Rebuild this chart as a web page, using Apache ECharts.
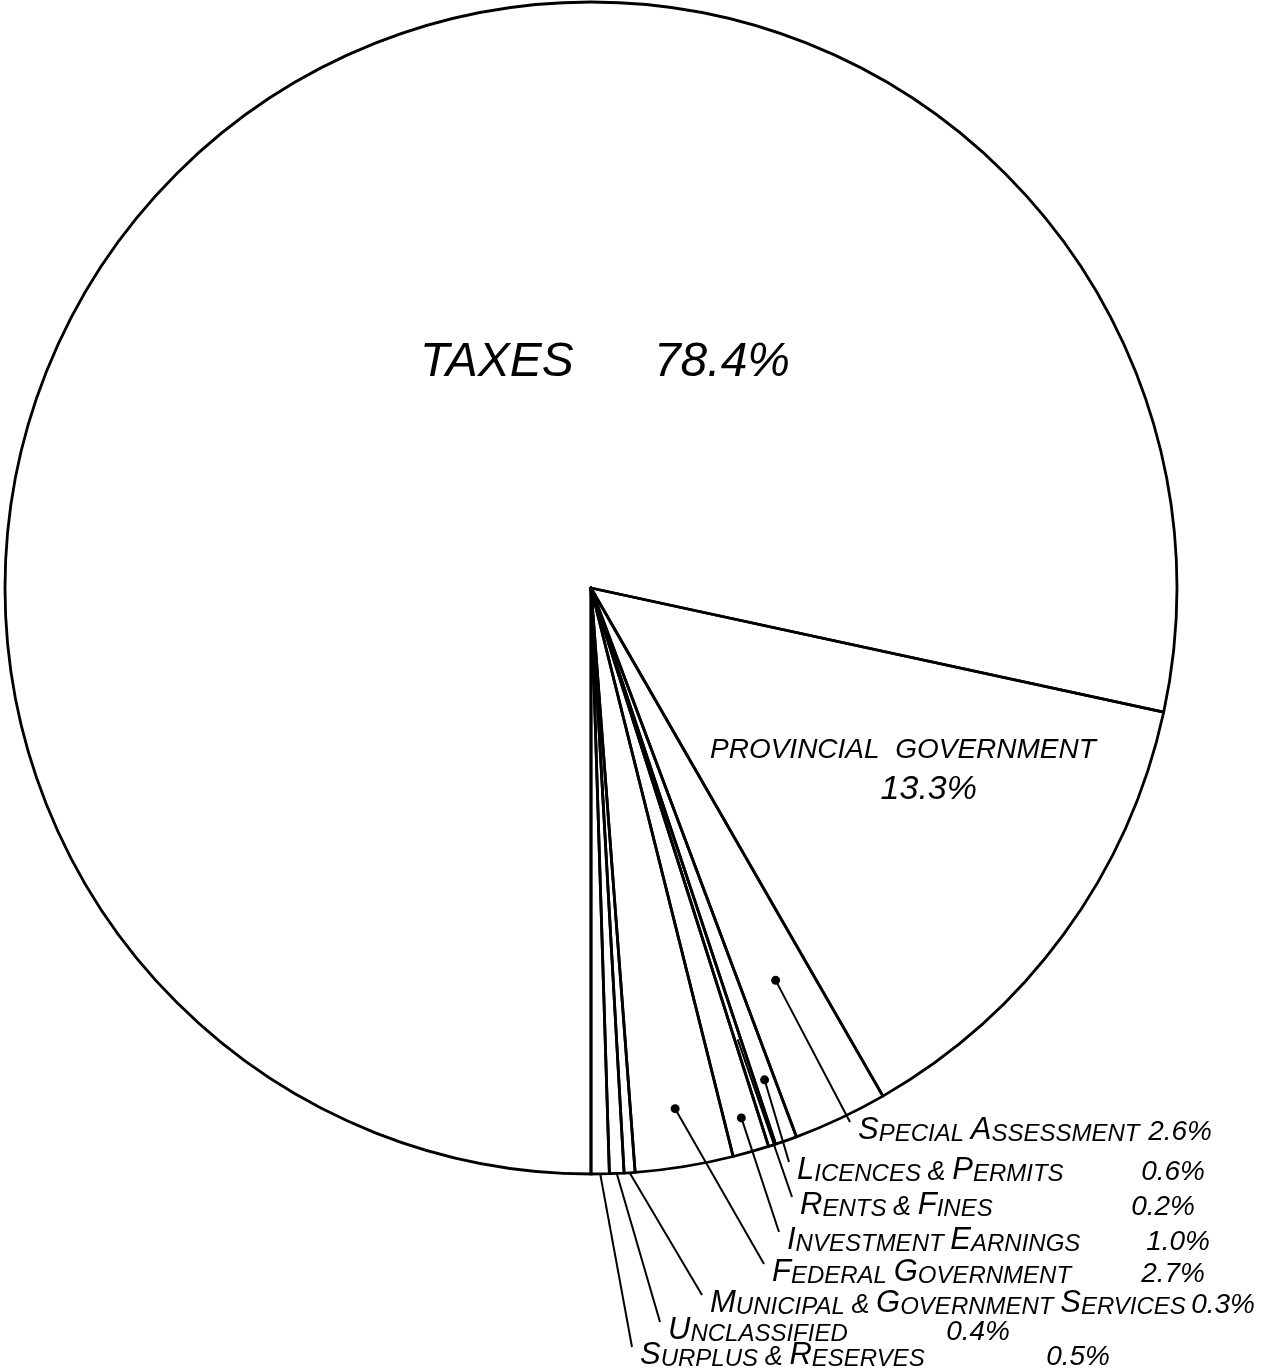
<!DOCTYPE html>
<html>
<head>
<meta charset="utf-8">
<style>
  html, body { margin: 0; padding: 0; background: #fff; }
  #main { width: 1269px; height: 1372px; }
</style>
<script src="https://cdn.jsdelivr.net/npm/echarts@6/dist/echarts.min.js"></script>
</head>
<body>
<div id="main"></div>
<script>
// --- data ---
var names = ['Taxes', 'Provincial Government', 'Special Assessment', 'Licences & Permits',
  'Rents & Fines', 'Investment Earnings', 'Federal Government',
  'Municipal & Government Services', 'Unclassified', 'Surplus & Reserves'];
var percents = [78.4, 13.3, 2.6, 0.6, 0.2, 1.0, 2.7, 0.3, 0.4, 0.5];

// --- layout (pixels) ---
var CX = 591, CY = 588, R = 586;
// label box: left x, middle y, width
var labelBox = [
  [420, 363, 370],
  [710, 772, 370],
  [858, 1130, 354],
  [797, 1170, 408],
  [800, 1205, 395],
  [787, 1240, 423],
  [772, 1272, 433],
  [710, 1303, 545],
  [668, 1330, 342],
  [640, 1355, 470]
];
// where the leader starts inside the slice, as a fraction of the radius
var leaderFrom = [null, null, 0.74, 0.89, 0.81, 0.94, 0.9, 1, 1, 1];
var hasDot = [false, false, true, true, false, true, true, false, false, false];

var FONT = "'Liberation Sans', Arial, sans-serif";

// middle of each slice, counted in percent clockwise from the bottom
var midPct = [];
var acc = 0;
for (var i = 0; i < percents.length; i++) {
  midPct.push(acc + percents[i] / 2);
  acc += percents[i];
}

function pointAt(frac, pct) {
  var a = (270 - pct * 3.6) * Math.PI / 180;
  return [CX + frac * R * Math.cos(a), CY - frac * R * Math.sin(a)];
}

function smallCaps(s) {
  return s.split(' ').map(function (w) {
    if (w === '&') return '{amp|&}';
    return '{big|' + w.charAt(0).toUpperCase() + '}{sm|' + w.slice(1).toUpperCase() + '}';
  }).join('{sm| }');
}

var pieData = names.map(function (n, i) {
  var item = { name: n, value: percents[i] };
  var pct = percents[i].toFixed(1) + '%';
  if (i === 0) {
    item.label = { width: labelBox[i][2], formatter: '{tx|TAXES}{tv|' + pct + '}' };
    item.labelLine = { show: false };
  } else if (i === 1) {
    item.label = { width: labelBox[i][2], formatter: '{pn|PROVINCIAL  GOVERNMENT}\n{pv|' + pct + '}' };
    item.labelLine = { show: false };
  } else {
    item.label = { width: labelBox[i][2], formatter: smallCaps(n) + '{pct|' + pct + '}' };
  }
  return item;
});

var dotData = [];
for (var j = 0; j < names.length; j++) {
  if (hasDot[j]) dotData.push([leaderFrom[j], midPct[j]]);
}

var chart = echarts.init(document.getElementById('main'));
chart.setOption({
  backgroundColor: '#fff',
  animation: false,
  polar: { center: [CX, CY], radius: R },
  angleAxis: { type: 'value', min: 0, max: 100, startAngle: -90, clockwise: true, show: false },
  radiusAxis: { type: 'value', min: 0, max: 1, show: false },
  series: [
    {
      type: 'pie',
      center: [CX, CY],
      radius: R,
      startAngle: -90,
      clockwise: true,
      avoidLabelOverlap: false,
      silent: true,
      itemStyle: { color: 'rgba(255,255,255,0)', borderColor: '#000', borderWidth: 2.8 },
      label: {
        show: true,
        color: '#000',
        overflow: 'none',
        fontFamily: FONT,
        fontStyle: 'italic',
        rich: {
          tx: { fontSize: 48, fontStyle: 'italic', fontFamily: FONT, color: '#000' },
          tv: { fontSize: 48, fontStyle: 'italic', fontFamily: FONT, color: '#000', align: 'right' },
          pn: { fontSize: 28, lineHeight: 36, fontStyle: 'italic', fontFamily: FONT, color: '#000' },
          pv: { fontSize: 34, lineHeight: 44, fontStyle: 'italic', fontFamily: FONT, color: '#000', align: 'right', padding: [0, 103, 0, 0] },
          big: { fontSize: 31, lineHeight: 32, verticalAlign: 'bottom', fontStyle: 'italic', fontFamily: FONT, color: '#000' },
          sm: { fontSize: 24, lineHeight: 32, verticalAlign: 'bottom', fontStyle: 'italic', fontFamily: FONT, color: '#000' },
          amp: { fontSize: 27, lineHeight: 32, verticalAlign: 'bottom', fontStyle: 'italic', fontFamily: FONT, color: '#000' },
          pct: { fontSize: 28, lineHeight: 32, verticalAlign: 'bottom', fontStyle: 'italic', fontFamily: FONT, color: '#000', align: 'right' }
        }
      },
      labelLine: { show: true, lineStyle: { color: '#000', width: 2 } },
      labelLayout: function (params) {
        var k = params.dataIndex;
        var b = labelBox[k];
        var out = { x: b[0], y: b[1], align: 'left', verticalAlign: 'middle' };
        if (leaderFrom[k] != null) {
          var end = [b[0] - 8, b[1] - 8];
          out.labelLinePoints = [pointAt(leaderFrom[k], midPct[k]), end, end];
        }
        return out;
      },
      data: pieData
    },
    {
      type: 'scatter',
      coordinateSystem: 'polar',
      symbolSize: 9,
      silent: true,
      z: 5,
      itemStyle: { color: '#000', opacity: 1 },
      data: dotData
    }
  ]
});
</script>
</body>
</html>
